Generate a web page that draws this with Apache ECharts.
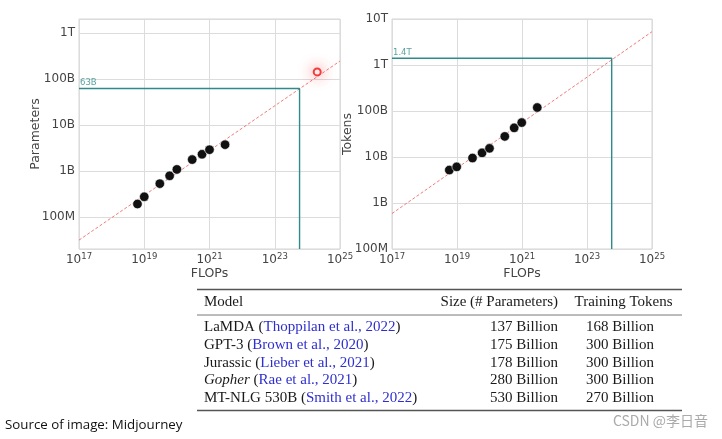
<!DOCTYPE html>
<html><head><meta charset="utf-8">
<script src="https://cdn.jsdelivr.net/npm/echarts@6/dist/echarts.min.js"></script>
<style>html,body{margin:0;padding:0;background:#fff}#c{width:722px;height:439px}</style>
</head><body><div id="c"></div><script>
// ---- data ----
const paramFlops = [6.2e18, 1.0e19, 3.0e19, 6.0e19, 1.0e20, 2.95e20, 5.9e20, 1.0e21, 3.0e21];
const params     = [1.95e8, 2.8e8, 5.4e8, 8.0e8, 1.1e9, 1.8e9, 2.35e9, 2.95e9, 3.8e9];
const tokenFlops = [5.8e18, 9.8e18, 3.0e19, 5.9e19, 1.0e20, 2.95e20, 5.75e20, 9.8e20, 2.95e21];
const tokens     = [5.2e9, 6.1e9, 9.5e9, 1.23e10, 1.54e10, 2.8e10, 4.3e10, 5.6e10, 1.19e11];
const gopherPoint = [2.0e24, 1.45e11];
const paramFit = [[1e17, 3.2e7], [1e25, 2.5e11]];
const tokenFit = [[1e17, 5.9e8], [1e25, 5.3e12]];
const optimalFlops = 5.76e23;
const optimalParams = 6.3e10;
const optimalTokens = 1.4e12;
const optimalParamsLabel = '63B';
const optimalTokensLabel = '1.4T';
const flopsRange = [1e17, 1e25];
const paramRange = [2.05e7, 2.05e12];
const tokenRange = [1e8, 1e13];
const yTickLabels = {8: '100M', 9: '1B', 10: '10B', 11: '100B', 12: '1T', 13: '10T'};

const tableHeader = ['Model', 'Size (# Parameters)', 'Training Tokens'];
const tableModels = ['LaMDA', 'GPT-3', 'Jurassic', 'Gopher', 'MT-NLG 530B'];
const tableItalic = [false, false, false, true, false];
const tableCitations = ['Thoppilan et al., 2022', 'Brown et al., 2020', 'Lieber et al., 2021', 'Rae et al., 2021', 'Smith et al., 2022'];
const tableSizes = ['137 Billion', '175 Billion', '178 Billion', '280 Billion', '530 Billion'];
const tableTokens = ['168 Billion', '300 Billion', '300 Billion', '300 Billion', '270 Billion'];
const sourceText = 'Source of image: Midjourney';
const watermark = 'CSDN @李日音';

// ---- helpers ----
const lg = Math.log10;
const TEAL = '#2f8b8b';
const FONT = 'DejaVu Sans';
const SERIF = 'Liberation Serif';
const TFS = 15;

function xAxisCfg(idx) {
  return {
    gridIndex: idx, type: 'value', min: lg(flopsRange[0]), max: lg(flopsRange[1]), interval: 2,
    name: 'FLOPs', nameLocation: 'middle', nameGap: 18, nameMoveOverlap: false,
    nameTextStyle: {fontFamily: FONT, fontSize: 12.5, color: '#444'},
    axisLine: {show: false}, axisTick: {show: false},
    splitLine: {show: true, lineStyle: {color: '#dcdcdc', width: 1}},
    axisLabel: {
      margin: 4,
      formatter: v => '{b|10}{s|' + Math.round(v) + '}',
      rich: {
        b: {fontFamily: FONT, fontSize: 12, color: '#444', lineHeight: 14},
        s: {fontFamily: FONT, fontSize: 8.5, color: '#444', lineHeight: 14, padding: [0, 0, 7, 0]}
      }
    }
  };
}
function yAxisCfg(idx, range, name, interval, gap) {
  const c = {
    gridIndex: idx, type: 'value', min: lg(range[0]), max: lg(range[1]),
    name: name, nameLocation: 'middle', nameGap: gap, nameMoveOverlap: false,
    nameTextStyle: {fontFamily: FONT, fontSize: 12.5, color: '#444'},
    axisLine: {show: false}, axisTick: {show: false},
    splitLine: {show: true, lineStyle: {color: '#dcdcdc', width: 1}},
    axisLabel: {
      margin: 4, fontFamily: FONT, fontSize: 12, color: '#444',
      formatter: v => (Math.abs(v - Math.round(v)) < 1e-6 && yTickLabels[Math.round(v)]) ? yTickLabels[Math.round(v)] : ''
    }
  };
  if (interval) c.interval = interval; else c.splitNumber = 5;
  return c;
}
function chartSeries(idx, fx, fy, fit, optY, yMin, label) {
  const s = [];
  s.push({
    type: 'line', xAxisIndex: idx, yAxisIndex: idx, symbol: 'none', silent: true, z: 2,
    data: fit.map(p => [lg(p[0]), lg(p[1])]),
    lineStyle: {color: 'rgba(238,100,100,0.85)', width: 1, type: [3, 2]}
  });
  s.push({
    type: 'line', xAxisIndex: idx, yAxisIndex: idx, symbol: 'none', silent: true, z: 3,
    data: [[lg(flopsRange[0]), lg(optY)], [lg(optimalFlops), lg(optY)], [lg(optimalFlops), lg(yMin)]],
    lineStyle: {color: TEAL, width: 1.4}
  });
  s.push({
    type: 'scatter', xAxisIndex: idx, yAxisIndex: idx, symbolSize: 0, silent: true, z: 4,
    data: [[lg(flopsRange[0]), lg(optY)]],
    label: {show: true, position: [1, -10], formatter: label, fontFamily: FONT, fontSize: 8.5, color: TEAL}
  });
  s.push({
    type: 'scatter', xAxisIndex: idx, yAxisIndex: idx, symbolSize: 9.5, z: 5,
    data: fx.map((f, i) => [lg(f), lg(fy[i])]),
    itemStyle: {color: '#111', borderColor: '#fff', borderWidth: 0.6, opacity: 1}
  });
  return s;
}

// ---- table graphics ----
const g = [];
const rule = (y, w) => ({type: 'line', shape: {x1: 197, y1: y, x2: 682, y2: y}, style: {stroke: '#555', lineWidth: w}});
g.push(rule(289.5, 1.4), rule(315, 0.8), rule(410.5, 1.4));
const tstyle = (x, y, text, align) => ({type: 'text', style: {x: x, y: y, text: text, textAlign: align, textVerticalAlign: 'middle', fontFamily: SERIF, fontSize: TFS, fill: '#1a1a1a'}});
g.push(tstyle(204, 302, tableHeader[0], 'left'));
g.push(tstyle(558, 302, tableHeader[1], 'right'));
g.push(tstyle(623.5, 302, tableHeader[2], 'center'));
const rowY = [327.5, 345.5, 363, 380.5, 398];
const rich = {
  n: {fontFamily: SERIF, fontSize: TFS, fill: '#1a1a1a'},
  i: {fontFamily: SERIF, fontSize: TFS, fill: '#1a1a1a', fontStyle: 'italic'},
  c: {fontFamily: SERIF, fontSize: TFS, fill: '#2f2fd0'}
};
tableModels.forEach((m, i) => {
  const t = '{' + (tableItalic[i] ? 'i' : 'n') + '|' + m + '}{n| (}{c|' + tableCitations[i] + '}{n|)}';
  g.push({type: 'text', style: {x: 204, y: rowY[i], text: t, rich: rich, textAlign: 'left', textVerticalAlign: 'middle', fontFamily: SERIF, fontSize: TFS, fill: '#1a1a1a'}});
  g.push(tstyle(558, rowY[i], tableSizes[i], 'right'));
  g.push(tstyle(620, rowY[i], tableTokens[i], 'center'));
});
g.push({type: 'text', style: {x: 5, y: 425, text: sourceText, textVerticalAlign: 'middle', fontFamily: 'Open Sans', fontSize: 13.3, fill: '#111'}});
g.push({type: 'text', style: {x: 708, y: 421, text: watermark, textAlign: 'right', textVerticalAlign: 'middle', fontFamily: 'Noto Sans CJK SC', fontSize: 14, fill: '#aaa'}});

const chart = echarts.init(document.getElementById('c'), null, {renderer: 'canvas'});
const series = [].concat(
  chartSeries(0, paramFlops, params, paramFit, optimalParams, paramRange[0], optimalParamsLabel),
  chartSeries(1, tokenFlops, tokens, tokenFit, optimalTokens, tokenRange[0], optimalTokensLabel)
);
series.push({
  type: 'scatter', xAxisIndex: 0, yAxisIndex: 0, symbolSize: 7, z: 6,
  data: [[lg(gopherPoint[0]), lg(gopherPoint[1])]],
  itemStyle: {color: '#fff', borderColor: '#f01010', borderWidth: 2, shadowBlur: 14, shadowColor: 'rgba(255,60,60,0.8)'}
});
chart.setOption({
  animation: false,
  backgroundColor: '#fff',
  grid: [
    {left: 79, top: 19, width: 261, height: 230, show: true, borderColor: '#d4d4d4', borderWidth: 1, backgroundColor: '#fff'},
    {left: 392, top: 19, width: 260, height: 230, show: true, borderColor: '#d4d4d4', borderWidth: 1, backgroundColor: '#fff'}
  ],
  xAxis: [xAxisCfg(0), xAxisCfg(1)],
  yAxis: [yAxisCfg(0, paramRange, 'Parameters', null, 37), yAxisCfg(1, tokenRange, 'Tokens', 1, 37.5)],
  series: series,
  graphic: g
});
</script></body></html>
